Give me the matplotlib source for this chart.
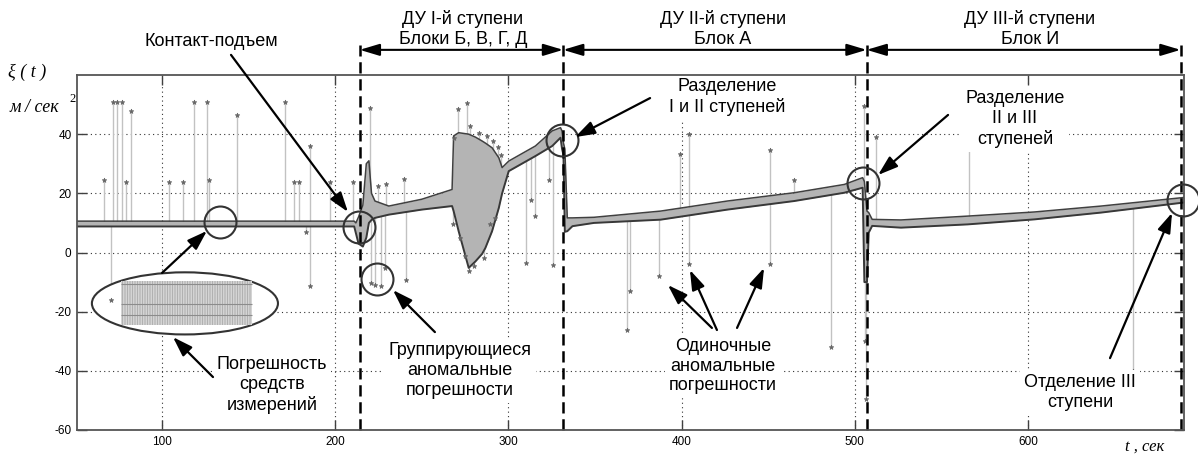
import matplotlib.pyplot as plt
import numpy as np
from matplotlib.patches import Ellipse, Rectangle

plt.rcParams['font.family'] = ['Liberation Sans', 'DejaVu Sans']
plt.rcParams['hatch.linewidth'] = 0.6
plt.rcParams['axes.unicode_minus'] = False

# --- measured signal: envelope of the noisy band (t in seconds, m/s^2) ---
band_t = [51, 211, 212, 213.5, 216, 218, 219.5, 221, 223, 231, 250, 267.5,
          268.4, 271.3, 277.1, 281, 284.8, 286.7, 290.6, 294.5, 296.4, 300.2,
          315.6, 325.3, 330.1, 331.0, 331.8, 332.6, 334, 337, 349.4, 387.9,
          426.4, 465, 493.9, 504.5, 505.5, 507, 508, 510, 526.6, 565, 603.7,
          642.2, 690]
band_lo = [8.8, 8.8, 6.5, 3, 2, 5, 10, 11, 11.7, 12.8, 14.5, 15.7,
           14, 7.2, -5.2, -3, -0.5, 1.5, 7.2, 15.1, 20, 27.5,
           32.6, 36, 38.8, 35, 33, 7, 7.2, 8.9, 10, 11.1,
           14.5, 17.4, 20.2, 21.9, -10, -10, 6.7, 9, 8.4, 9.5, 11.2,
           13.5, 16.9]
band_hi = [10.6, 10.6, 10, 12, 16, 30, 31, 20, 17.4, 15.7, 18, 21.3,
           39.4, 40.5, 40, 39, 37.7, 37, 35.4, 32, 28.7, 30.9,
           36, 41.1, 42.2, 41, 37, 35, 11.7, 11.7, 11.9, 14,
           17.4, 20.2, 23, 25.3, 24, 14, 13.5, 11.2, 11, 12.3, 13.7,
           15.7, 18.6]

# --- anomalous errors (stems): time and tip value ---
spike_t = [66.3, 70.9, 71.7, 74.0, 77.0, 79.2, 82.2, 103.9, 112.3, 118.3,
           126.0, 127.4, 143.4, 171.3, 176.1, 179.4, 183.4, 185.5, 185.5,
           197.3, 210.4,
           220.3, 220.9, 222.8, 224.7, 226.4, 228.9, 229.3, 239.5, 240.9,
           268.4, 270.8, 276.1, 278.1, 283.0, 287.5, 291.0, 294.0, 296.0,
           268.0, 272.3, 275.2, 277.1, 280.0, 285.8, 289.6, 292.5,
           310.4, 312.8, 315.1, 323.4, 325.7,
           368.6, 370.0, 386.9, 398.8, 404.2, 404.2, 451.0, 451.0, 464.9,
           486.1, 505.5, 505.9, 506.3,
           512.1, 566.0, 660.6]
spike_v = [24.4, -16.0, 51, 51, 51, 24.0, 48.0, 24.0, 24.0, 51,
           51, 24.6, 46.4, 51, 24.0, 24.0, 7.0, 36.0, -11.4,
           24.0, 24.0,
           49.0, -10.3, -10.9, 22.4, -11.2, -5.2, 23.2, 25.0, -9.2,
           38.8, 48.4, 50.7, 42.8, 40.5, 39.5, 37.8, 35.5, 33.0,
           9.5, 4.9, -1.3, -6.4, -4.7, -1.8, 9.5, 11.7,
           -3.5, 17.6, 12.3, 24.4, -4.1,
           -26.1, -13.1, -8.0, 33.2, 40.0, -3.8, 34.6, -3.8, 24.4,
           -31.8, 49.5, -30.0, -49.5,
           38.9, 36.0, -40.0]

stage_bounds = [214.2, 331.6, 506.8, 688.0]
stage_titles = ['ДУ I-й ступени\nБлоки Б, В, Г, Д',
                'ДУ II-й ступени\nБлок А',
                'ДУ III-й ступени\nБлок И']
stage_title_t = [273.8, 423.9, 601.1]

x_ticks = [100, 200, 300, 400, 500, 600]
y_ticks = [-60, -40, -20, 0, 20, 40]

# highlighted spots (circles) and the zoomed-in noise ellipse
circle_t = [133.7, 213.6, 224.0, 330.8, 504.9, 689.2]
circle_v = [10.4, 8.7, -9.0, 38.0, 23.4, 17.7]
inset_levels = [-10.6, -17.4, -21.1]

# annotation texts: (text, t, v)
notes = [
    ('Разделение\nI и II ступеней', 426.2, 52.6),
    ('Разделение\nII и III\nступеней', 592.4, 45.1),
    ('Одиночные\nаномальные\nпогрешности', 423.9, -38.4),
    ('Отделение III\nступени', 630.0, -47.3),
    ('Группирующиеся\nаномальные\nпогрешности', 272.1, -39.9),
    ('Погрешность\nсредств\nизмерений', 163.6, -44.8),
]
# arrows: (start_t, start_v, tip_t, tip_v)
arrows = [
    (139.9, 66.8, 207.4, 13.7),
    (100.1, -6.9, 126.0, 7.3),
    (129.5, -42.1, 106.4, -28.6),
    (257.6, -26.9, 233.4, -12.7),
    (381.8, 52.2, 338.5, 39.0),
    (553.8, 46.5, 513.4, 26.2),
    (647.3, -35.7, 683.1, 13.4),
    (417.5, -25.5, 392.1, -11.0),
    (420.4, -26.2, 404.8, -5.9),
    (432.0, -25.5, 447.6, -5.2),
]

fig = plt.figure(figsize=(11.98, 4.57), dpi=100)
ax = fig.add_axes([77 / 1198, 27 / 457, 1107 / 1198, 355 / 457])
ax.set_xlim(51, 690)
ax.set_ylim(-60, 60)

# stems under the band
bt = np.array(band_t)
mid = (np.array(band_lo) + np.array(band_hi)) / 2
base = np.interp(spike_t, bt, mid)
ax.vlines(spike_t, base, spike_v, color='#c2c2c2', lw=1.0, zorder=2)

# noisy band
ax.fill_between(band_t, band_lo, band_hi, color='#b4b4b4', lw=0, zorder=3)
ax.plot(band_t, band_lo, color='#383838', lw=1.4, zorder=3.5)
ax.plot(band_t, band_hi, color='#404040', lw=1.1, zorder=3.5)
ax.plot(spike_t, spike_v, '*', color='#666666', ms=3.5, mew=0.5, zorder=4)

# stage boundaries and top brackets
for b in stage_bounds:
    ax.plot([b, b], [-60, 70.2], color='black', lw=1.8, ls=(0, (4.5, 2.3)),
            clip_on=False, zorder=6)
for i, title in enumerate(stage_titles):
    ax.annotate('', xy=(stage_bounds[i], 68.5), xytext=(stage_bounds[i + 1], 68.5),
                arrowprops=dict(arrowstyle='<|-|>,head_length=0.6,head_width=0.18',
                                mutation_scale=20, lw=1.5, color='black',
                                shrinkA=0, shrinkB=0),
                annotation_clip=False)
    ax.text(stage_title_t[i], 75.5, title, ha='center', va='center',
            fontsize=13, linespacing=1.2, clip_on=False)

ax.text(128.3, 71.2, 'Контакт-подъем', ha='center', va='center', fontsize=13)

# circles and ellipse with noise inset
ax.plot(circle_t, circle_v, 'o', mfc='none', mec='#333333', mew=1.5, ms=23,
        clip_on=False, zorder=7)
ax.add_patch(Ellipse((113.3, -17.2), 107.4, 21.0, fc='white', ec='#333333',
                     lw=1.5, zorder=5))
ax.add_patch(Rectangle((76.2, -24.4), 75.6, 14.7, fc='#e4e4e4', ec='#a8a8a8',
                       hatch='||||||||||', lw=0, zorder=5.5))
ax.hlines(inset_levels, 76.2, 151.8, color='#8c8c8c', lw=0.8, zorder=5.6)
ax.plot([70.9], [-16.0], '*', color='#666666', ms=3.5, mew=0.5, zorder=5.7)

for txt, t, v in notes:
    ax.text(t, v, txt, ha='center', va='center', fontsize=13, linespacing=1.2,
            zorder=5, bbox=dict(fc='white', ec='none', pad=3))

for x0, y0, x1, y1 in arrows:
    ax.annotate('', xy=(x1, y1), xytext=(x0, y0),
                arrowprops=dict(arrowstyle='-|>,head_length=0.6,head_width=0.2',
                                mutation_scale=20, lw=1.6, color='black',
                                shrinkA=0, shrinkB=0),
                annotation_clip=False, zorder=8)

# axes styling (MATLAB look)
ax.set_xticks(x_ticks)
ax.set_yticks(y_ticks)
ax.tick_params(direction='in', length=7, width=1, color='#404040', labelsize=8.5,
               top=True, right=True, pad=4)
ax.grid(True, color='#333333', lw=0.8, ls=(0, (1, 3)))
ax.set_axisbelow(True)
for s in ax.spines.values():
    s.set_color('#555555')
    s.set_linewidth(1.3)
    s.set_zorder(6)

serif = ['Liberation Serif', 'DejaVu Serif']
fig.text(8 / 1198, 1 - 72 / 457, 'ξ ( t )', family=serif, style='italic',
         fontsize=13, va='center')
fig.text(10 / 1198, 1 - 107 / 457, 'м / сек', family=serif, style='italic',
         fontsize=13, va='center')
fig.text(69 / 1198, 1 - 99 / 457, '2', family=serif, fontsize=9, va='center')
fig.text(1125 / 1198, 1 - 447 / 457, 't , сек', family=serif, style='italic',
         fontsize=12, va='center')

fig.savefig('out.png', dpi=100)
